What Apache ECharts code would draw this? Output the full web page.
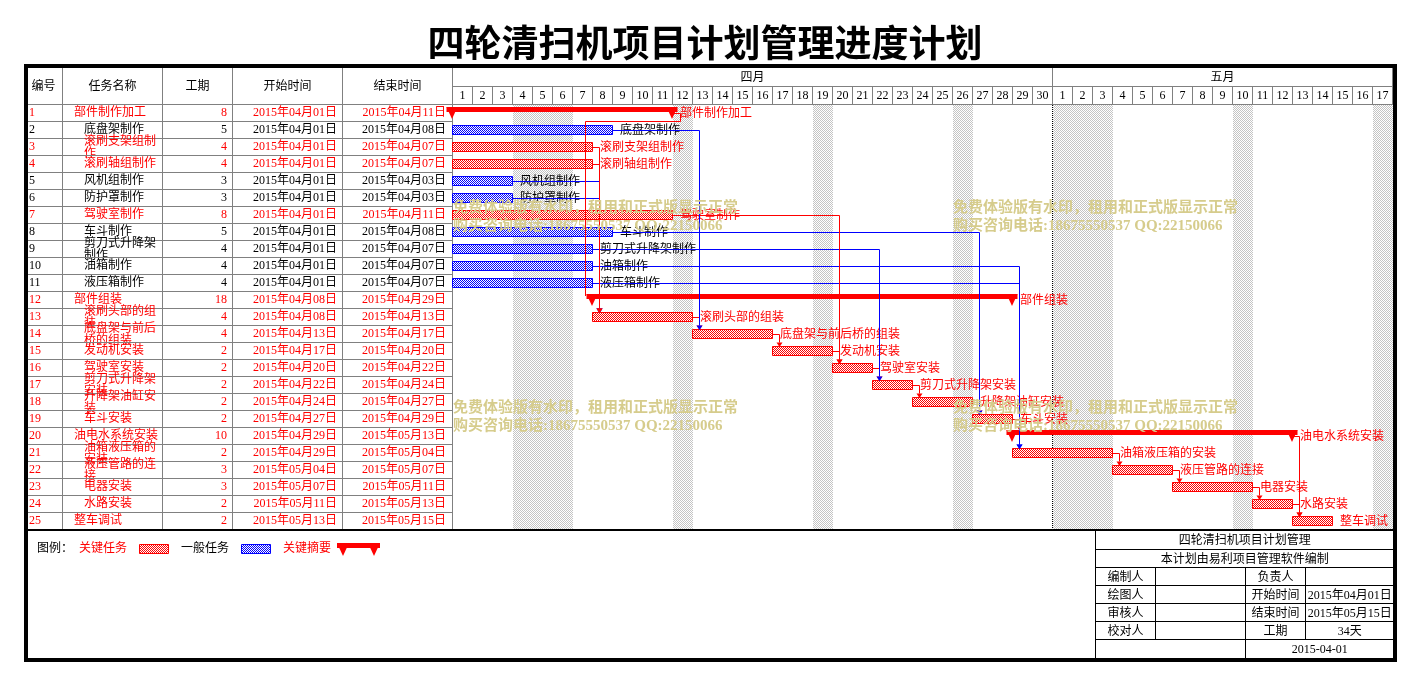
<!DOCTYPE html>
<html>
<head>
<meta charset="utf-8">
<title>四轮清扫机项目计划管理进度计划</title>
<script src="https://cdn.jsdelivr.net/npm/echarts@6.0.0/dist/echarts.min.js"></script>
<style>
html,body{margin:0;padding:0;background:#ffffff;}
#c{width:1419px;height:684px;}
</style>
</head>
<body>
<div id="c"></div>
<script>
// ---------------- DATA ----------------
const taskIds = ['1','2','3','4','5','6','7','8','9','10','11','12','13','14','15','16','17','18','19','20','21','22','23','24','25'];
const taskNames = ['部件制作加工','底盘架制作','滚刷支架组制作','滚刷轴组制作','风机组制作','防护罩制作','驾驶室制作','车斗制作','剪刀式升降架制作','油箱制作','液压箱制作','部件组装','滚刷头部的组装','底盘架与前后桥的组装','发动机安装','驾驶室安装','剪刀式升降架安装','升降架油缸安装','车斗安装','油电水系统安装','油箱液压箱的安装','液压管路的连接','电器安装','水路安装','整车调试'];
const taskLevels = [1,2,2,2,2,2,2,2,2,2,2,1,2,2,2,2,2,2,2,1,2,2,2,2,1];
const durations = [8,5,4,4,3,3,8,5,4,4,4,18,4,4,2,2,2,2,2,10,2,3,3,2,2];
const startDates = ['2015年04月01日','2015年04月01日','2015年04月01日','2015年04月01日','2015年04月01日','2015年04月01日','2015年04月01日','2015年04月01日','2015年04月01日','2015年04月01日','2015年04月01日','2015年04月08日','2015年04月08日','2015年04月13日','2015年04月17日','2015年04月20日','2015年04月22日','2015年04月24日','2015年04月27日','2015年04月29日','2015年04月29日','2015年05月04日','2015年05月07日','2015年05月11日','2015年05月13日'];
const endDates = ['2015年04月11日','2015年04月08日','2015年04月07日','2015年04月07日','2015年04月03日','2015年04月03日','2015年04月11日','2015年04月08日','2015年04月07日','2015年04月07日','2015年04月07日','2015年04月29日','2015年04月13日','2015年04月17日','2015年04月20日','2015年04月22日','2015年04月24日','2015年04月27日','2015年04月29日','2015年05月13日','2015年05月04日','2015年05月07日','2015年05月11日','2015年05月13日','2015年05月15日'];
const critical = [1,0,1,1,0,0,1,0,0,0,0,1,1,1,1,1,1,1,1,1,1,1,1,1,1];
const summary  = [1,0,0,0,0,0,0,0,0,0,0,1,0,0,0,0,0,0,0,1,0,0,0,0,0];
// bar extents in days from 2015-04-01 00:00
const barStart = [0,0,0,0,0,0,0,0,0,0,0,7,7,12,16,19,21,23,26,28,28,33,36,40,42];
const barEnd   = [11,8,7,7,3,3,11,8,7,7,7,28,12,16,19,21,23,26,28,42,33,36,40,42,44];
// dependency links [from task id, to task id], in drawing order
const links = [[24,25],[20,25],[23,24],[22,23],[21,22],[19,20],[18,19],[17,18],[16,17],[15,16],[14,15],[13,14],[11,21],[10,21],[9,17],[8,19],[7,16],[6,13],[5,13],[4,13],[3,13],[2,14],[1,12]];
// calendar
const monthLabels = ['四月','五月'];
const monthStart = [0,30];
const monthEnd = [30,47];
const dayLabels = ['1','2','3','4','5','6','7','8','9','10','11','12','13','14','15','16','17','18','19','20','21','22','23','24','25','26','27','28','29','30','1','2','3','4','5','6','7','8','9','10','11','12','13','14','15','16','17'];
const offDays = [4,5,6,12,19,26,31,32,33,40,47];
const monthDivider = [30];
const tableHeaders = ['编号','任务名称','工期','开始时间','结束时间'];
const titleText = '四轮清扫机项目计划管理进度计划';
const legendLabels = ['图例：','关键任务','一般任务','关键摘要'];
const infoTitle = '四轮清扫机项目计划管理';
const infoSub = '本计划由易利项目管理软件编制';
const infoRows = [['编制人','','负责人',''],['绘图人','','开始时间','2015年04月01日'],['审核人','','结束时间','2015年05月15日'],['校对人','','工期','34天']];
const infoDate = '2015-04-01';
const watermark1 = '免费体验版有水印，租用和正式版显示正常';
const watermark2 = '购买咨询电话:18675550537 QQ:22150066';

// ---------------- LAYOUT / STYLE ----------------
const FONT = '"Liberation Serif","Noto Sans CJK SC",serif';
const F12 = '12px ' + FONT;
const GRAY = '#808080';
const RED = '#ff0000';
const BLUE = '#0000ff';
const colEdges = [0, 38, 138, 208, 318, 428];
const nameIndent = {1: 12, 2: 22};

function makePattern(c1, c2) {
  const cv = document.createElement('canvas');
  cv.width = 2; cv.height = 2;
  const ctx = cv.getContext('2d');
  ctx.fillStyle = c2; ctx.fillRect(0, 0, 2, 2);
  ctx.fillStyle = c1; ctx.fillRect(0, 0, 1, 1); ctx.fillRect(1, 1, 1, 1);
  return {image: cv, repeat: 'repeat'};
}
const redPat = makePattern(RED, '#ffffff');
const bluePat = makePattern(BLUE, '#ffffff');
const grayPat = makePattern('#c4c4c4', '#ffffff');

function txt(text, x, y, fill, align, font) {
  return {type: 'text', silent: true, style: {text: text, x: x, y: y, fill: fill, font: font || F12,
    align: align, textAlign: align, verticalAlign: 'middle', textVerticalAlign: 'middle'}};
}
function hline(x1, x2, y, color, w) {
  return {type: 'line', silent: true, shape: {x1: x1, y1: y, x2: x2, y2: y}, style: {stroke: color, lineWidth: w || 1}};
}
function vline(x, y1, y2, color, w, dash) {
  const st = {stroke: color, lineWidth: w || 1};
  if (dash) st.lineDash = dash;
  return {type: 'line', silent: true, shape: {x1: x, y1: y1, x2: x, y2: y2}, style: st};
}
function wrapName(name, level) {
  const max = level === 1 ? 7 : 6;
  const out = [];
  for (let p = 0; p < name.length; p += max) out.push(name.slice(p, p + max));
  return out;
}

// ---------------- RENDERERS ----------------
function renderTableRow(params, api) {
  const idx = params.dataIndex;
  const i = api.value(1);
  const c0 = api.coord([0, i]);
  const h = api.size([0, 1])[1];
  const top = c0[1] - h / 2;
  const cy = c0[1] + 0.5;
  const xs = colEdges.map(function (e) { return api.coord([e, i])[0]; });
  const fill = critical[idx] ? RED : '#000000';
  const ch = [];
  ch.push(hline(xs[0], xs[5] + 1, top + 0.5, GRAY));
  for (let k = 1; k < xs.length; k++) ch.push(vline(xs[k] + 0.5, top, top + h, GRAY));
  ch.push(txt(taskIds[idx], xs[0] + 5, cy, fill, 'left'));
  const lines = wrapName(taskNames[idx], taskLevels[idx]);
  const nx = xs[1] + nameIndent[taskLevels[idx]];
  if (lines.length === 1) {
    ch.push(txt(lines[0], nx, cy, fill, 'left'));
  } else {
    ch.push(txt(lines[0], nx, cy - 5, fill, 'left'));
    ch.push(txt(lines[1], nx, cy + 7, fill, 'left'));
  }
  ch.push(txt(String(durations[idx]), xs[3] - 5, cy, fill, 'right'));
  ch.push(txt(startDates[idx], xs[4] - 5, cy, fill, 'right'));
  ch.push(txt(endDates[idx], xs[5] - 6, cy, fill, 'right'));
  return {type: 'group', children: ch};
}

function renderShade(params, api) {
  const cs = params.coordSys;
  const x0 = api.coord([api.value(0), 0])[0];
  const x1 = api.coord([api.value(1), 0])[0];
  return {type: 'rect', silent: true, shape: {x: x0 + 1, y: cs.y + 1, width: x1 - x0, height: cs.height - 1}, style: {fill: grayPat}};
}

function renderDivider(params, api) {
  const cs = params.coordSys;
  const x = api.coord([api.value(0), 0])[0];
  return vline(Math.round(x) + 0.5, cs.y + 1, cs.y + cs.height, '#000000', 1, [1, 1]);
}

function renderBar(params, api) {
  const idx = params.dataIndex;
  const i = api.value(2);
  const s = api.coord([api.value(0), i]);
  const e = api.coord([api.value(1), i]);
  const h = api.size([0, 1])[1];
  const top = s[1] - h / 2;
  const crit = critical[idx] === 1;
  const ch = [];
  if (summary[idx] === 1) {
    ch.push({type: 'rect', silent: true, shape: {x: s[0] - 5.5, y: top + 3, width: e[0] - s[0] + 11, height: 5}, style: {fill: RED}});
    ch.push({type: 'polygon', silent: true, shape: {points: [[s[0] - 5.5, top + 3], [s[0] + 5.5, top + 3], [s[0], top + 15]]}, style: {fill: RED}});
    ch.push({type: 'polygon', silent: true, shape: {points: [[e[0] - 5.5, top + 3], [e[0] + 5.5, top + 3], [e[0], top + 15]]}, style: {fill: RED}});
  } else {
    ch.push({type: 'rect', silent: true, shape: {x: s[0] + 0.5, y: top + 4.5, width: e[0] - s[0], height: 9},
      style: {fill: crit ? redPat : bluePat, stroke: crit ? RED : BLUE, lineWidth: 1}});
  }
  ch.push(txt(taskNames[idx], e[0] + 8, top + 9.5, crit ? RED : '#000000', 'left'));
  return {type: 'group', children: ch};
}

function renderLink(params, api) {
  const pe = api.coord([api.value(0), api.value(1)]);
  const ts = api.coord([api.value(2), api.value(3)]);
  const col = api.value(4) ? RED : BLUE;
  const h = api.size([0, 1])[1];
  const pTop = pe[1] - h / 2, tTop = ts[1] - h / 2;
  const py = pTop + 9.5;
  const tgtY = tTop + (api.value(5) ? 3 : 4.5);
  const st = {stroke: col, lineWidth: 1, fill: null};
  const ch = [];
  if (api.value(2) >= api.value(0)) {
    const jx = Math.round(ts[0]) + 7.5;
    ch.push({type: 'polyline', silent: true, shape: {points: [[pe[0], py], [jx, py], [jx, tgtY - 4]]}, style: st});
    ch.push({type: 'polygon', silent: true, shape: {points: [[jx - 3, tgtY - 4], [jx + 3, tgtY - 4], [jx, tgtY + 0.5]]}, style: {fill: col}});
  } else {
    const x2 = Math.round(pe[0]) + 8.5, y2 = pTop + 17.5, x3 = Math.round(ts[0]) - 6.5;
    ch.push({type: 'polyline', silent: true, shape: {points: [[pe[0], py], [x2, py], [x2, y2], [x3, y2], [x3, tgtY + 2]]}, style: st});
  }
  return {type: 'group', children: ch};
}

function renderTableHeader(params, api) {
  const k = api.value(0);
  const p0 = api.coord([colEdges[k], 0]);
  const p1 = api.coord([colEdges[k + 1], 37]);
  const ch = [];
  ch.push(vline(p1[0] + 0.5, p0[1], p1[1], GRAY));
  ch.push(hline(p0[0], p1[0] + 1, p1[1] + 0.5, GRAY));
  ch.push(txt(tableHeaders[k], (p0[0] + p1[0]) / 2 + 0.5, (p0[1] + p1[1]) / 2 + 1, '#000000', 'center'));
  return {type: 'group', children: ch};
}

function renderMonth(params, api) {
  const idx = params.dataIndex;
  const p0 = api.coord([api.value(0), 0]);
  const p1 = api.coord([api.value(1), 19]);
  const ch = [];
  ch.push(hline(p0[0], p1[0] + 1, p1[1] + 0.5, GRAY));
  ch.push(vline(p1[0] + 0.5, p0[1], p1[1], GRAY));
  ch.push(txt(monthLabels[idx], (p0[0] + p1[0]) / 2 + 0.5, (p0[1] + p1[1]) / 2 + 1, '#000000', 'center'));
  return {type: 'group', children: ch};
}

function renderDay(params, api) {
  const idx = params.dataIndex;
  const p0 = api.coord([api.value(0), 19]);
  const p1 = api.coord([api.value(1), 37]);
  const ch = [];
  ch.push(vline(p1[0] + 0.5, p0[1], p1[1], GRAY));
  ch.push(hline(p0[0], p1[0] + 1, p1[1] + 0.5, GRAY));
  ch.push(txt(dayLabels[idx], (p0[0] + p1[0]) / 2 + 0.5, (p0[1] + p1[1]) / 2 + 1, '#000000', 'center'));
  return {type: 'group', children: ch};
}

// ---------------- SERIES DATA ----------------
const tableData = taskIds.map(function (id, i) { return [0, i]; });
const barData = taskIds.map(function (id, i) { return [barStart[i], barEnd[i], i]; });
const linkData = links.map(function (l) {
  const a = l[0] - 1, b = l[1] - 1;
  return [barEnd[a], a, barStart[b], b, critical[a], summary[b]];
});
const shadeData = offDays.map(function (d) { return [d - 1, d]; });
const monthData = monthLabels.map(function (m, k) { return [monthStart[k], monthEnd[k]]; });
const dayData = dayLabels.map(function (d, k) { return [k, k + 1]; });
const headerData = tableHeaders.map(function (t, k) { return [k, 0]; });

// ---------------- GRAPHIC (title, frame, legend, info box, watermark) ----------------
const graphics = [];
graphics.push({type: 'text', z: 10, silent: true, style: {text: titleText, x: 705, y: 43, fill: '#000000',
  font: 'bold 37px "Noto Sans CJK SC",sans-serif', align: 'center', textAlign: 'center', verticalAlign: 'middle', textVerticalAlign: 'middle'}});
// frame + separator
graphics.push({type: 'rect', z: 20, silent: true, shape: {x: 26, y: 66, width: 1369, height: 594}, style: {fill: null, stroke: '#000000', lineWidth: 4}});
graphics.push({type: 'line', z: 20, silent: true, shape: {x1: 24, y1: 530, x2: 1396, y2: 530}, style: {stroke: '#000000', lineWidth: 2}});
// legend
const lgY = 548.5;
graphics.push({type: 'text', z: 10, silent: true, style: {text: legendLabels[0], x: 37, y: lgY, fill: '#000000', font: F12, align: 'left', textAlign: 'left', verticalAlign: 'middle', textVerticalAlign: 'middle'}});
graphics.push({type: 'text', z: 10, silent: true, style: {text: legendLabels[1], x: 79, y: lgY, fill: RED, font: F12, align: 'left', textAlign: 'left', verticalAlign: 'middle', textVerticalAlign: 'middle'}});
graphics.push({type: 'rect', z: 10, silent: true, shape: {x: 139.5, y: 544.5, width: 29, height: 9}, style: {fill: redPat, stroke: RED, lineWidth: 1}});
graphics.push({type: 'text', z: 10, silent: true, style: {text: legendLabels[2], x: 181, y: lgY, fill: '#000000', font: F12, align: 'left', textAlign: 'left', verticalAlign: 'middle', textVerticalAlign: 'middle'}});
graphics.push({type: 'rect', z: 10, silent: true, shape: {x: 241.5, y: 544.5, width: 29, height: 9}, style: {fill: bluePat, stroke: BLUE, lineWidth: 1}});
graphics.push({type: 'text', z: 10, silent: true, style: {text: legendLabels[3], x: 283, y: lgY, fill: RED, font: F12, align: 'left', textAlign: 'left', verticalAlign: 'middle', textVerticalAlign: 'middle'}});
graphics.push({type: 'rect', z: 10, silent: true, shape: {x: 337, y: 543, width: 43, height: 5}, style: {fill: RED}});
graphics.push({type: 'polygon', z: 10, silent: true, shape: {points: [[337, 543], [349, 543], [343, 556]]}, style: {fill: RED}});
graphics.push({type: 'polygon', z: 10, silent: true, shape: {points: [[368, 543], [380, 543], [374, 556]]}, style: {fill: RED}});
// info box
const ibX = [1095.5, 1155.5, 1245.5, 1305.5, 1394];
const ibY = [530, 549.5, 567.5, 585.5, 603.5, 621.5, 639.5, 658];
function gtext(t, x, y, align) {
  return {type: 'text', z: 10, silent: true, style: {text: t, x: x, y: y, fill: '#000000', font: F12, align: align || 'center', textAlign: align || 'center', verticalAlign: 'middle', textVerticalAlign: 'middle'}};
}
function gline(x1, y1, x2, y2) {
  return {type: 'line', z: 10, silent: true, shape: {x1: x1, y1: y1, x2: x2, y2: y2}, style: {stroke: '#000000', lineWidth: 1}};
}
graphics.push(gline(ibX[0], ibY[0], ibX[0], ibY[7]));
for (let r = 1; r <= 6; r++) graphics.push(gline(ibX[0], ibY[r], ibX[4], ibY[r]));
graphics.push(gline(ibX[1], ibY[2], ibX[1], ibY[6]));
graphics.push(gline(ibX[2], ibY[2], ibX[2], ibY[7]));
graphics.push(gline(ibX[3], ibY[2], ibX[3], ibY[6]));
graphics.push(gtext(infoTitle, (ibX[0] + ibX[4]) / 2, (ibY[0] + ibY[1]) / 2 + 1));
graphics.push(gtext(infoSub, (ibX[0] + ibX[4]) / 2, (ibY[1] + ibY[2]) / 2 + 1));
infoRows.forEach(function (row, r) {
  const yc = (ibY[r + 2] + ibY[r + 3]) / 2 + 1;
  row.forEach(function (cell, c) {
    if (cell) graphics.push(gtext(cell, (ibX[c] + ibX[c + 1]) / 2, yc));
  });
});
graphics.push(gtext(infoDate, (ibX[2] + ibX[4]) / 2, (ibY[6] + ibY[7]) / 2 + 1));
// watermarks
const wmFont = 'bold 15px "Liberation Serif","Noto Sans CJK SC",serif';
const wmColor = '#d6cc8c';
[[453, 208], [953, 208], [453, 408.5], [953, 408.5]].forEach(function (p) {
  graphics.push({type: 'text', z: 50, silent: true, style: {text: watermark1, x: p[0], y: p[1], fill: wmColor, font: wmFont, align: 'left', textAlign: 'left', verticalAlign: 'middle', textVerticalAlign: 'middle'}});
  graphics.push({type: 'text', z: 50, silent: true, style: {text: watermark2, x: p[0], y: p[1] + 18, fill: wmColor, font: wmFont, align: 'left', textAlign: 'left', verticalAlign: 'middle', textVerticalAlign: 'middle'}});
});

// ---------------- OPTION ----------------
const gridBase = {show: false, containLabel: false, outerBoundsMode: 'none'};
const option = {
  animation: false,
  backgroundColor: '#ffffff',
  textStyle: {fontFamily: FONT},
  tooltip: {show: false},
  grid: [
    Object.assign({left: 24, top: 104, width: 428, height: 425}, gridBase),
    Object.assign({left: 452, top: 104, width: 940, height: 425}, gridBase),
    Object.assign({left: 24, top: 67, width: 428, height: 37}, gridBase),
    Object.assign({left: 452, top: 67, width: 940, height: 37}, gridBase)
  ],
  xAxis: [
    {gridIndex: 0, type: 'value', min: 0, max: 428, show: false},
    {gridIndex: 1, type: 'value', min: 0, max: 47, show: false},
    {gridIndex: 2, type: 'value', min: 0, max: 428, show: false},
    {gridIndex: 3, type: 'value', min: 0, max: 47, show: false}
  ],
  yAxis: [
    {gridIndex: 0, type: 'category', data: taskIds, inverse: true, show: false},
    {gridIndex: 1, type: 'category', data: taskIds, inverse: true, show: false},
    {gridIndex: 2, type: 'value', min: 0, max: 37, inverse: true, show: false},
    {gridIndex: 3, type: 'value', min: 0, max: 37, inverse: true, show: false}
  ],
  series: [
    {type: 'custom', name: 'table', xAxisIndex: 0, yAxisIndex: 0, z: 2, clip: false, silent: true,
      encode: {x: 0, y: 1}, renderItem: renderTableRow, data: tableData},
    {type: 'custom', name: 'offdays', xAxisIndex: 1, yAxisIndex: 1, z: 1, clip: false, silent: true,
      encode: {x: [0, 1]}, renderItem: renderShade, data: shadeData},
    {type: 'custom', name: 'divider', xAxisIndex: 1, yAxisIndex: 1, z: 2, clip: false, silent: true,
      encode: {x: 0}, renderItem: renderDivider, data: monthDivider.map(function (d) { return [d]; })},
    {type: 'custom', name: 'bars', xAxisIndex: 1, yAxisIndex: 1, z: 3, clip: false, silent: true,
      encode: {x: [0, 1], y: 2}, renderItem: renderBar, data: barData},
    {type: 'custom', name: 'links', xAxisIndex: 1, yAxisIndex: 1, z: 4, clip: false, silent: true,
      encode: {x: [0, 2], y: [1, 3]}, renderItem: renderLink, data: linkData},
    {type: 'custom', name: 'tableHeader', xAxisIndex: 2, yAxisIndex: 2, z: 5, clip: false, silent: true,
      encode: {x: 0, y: 1}, renderItem: renderTableHeader, data: headerData},
    {type: 'custom', name: 'months', xAxisIndex: 3, yAxisIndex: 3, z: 5, clip: false, silent: true,
      encode: {x: [0, 1]}, renderItem: renderMonth, data: monthData},
    {type: 'custom', name: 'days', xAxisIndex: 3, yAxisIndex: 3, z: 5, clip: false, silent: true,
      encode: {x: [0, 1]}, renderItem: renderDay, data: dayData}
  ],
  graphic: graphics
};
const chart = echarts.init(document.getElementById('c'), null, {renderer: 'canvas'});
chart.setOption(option);
</script>
</body>
</html>
